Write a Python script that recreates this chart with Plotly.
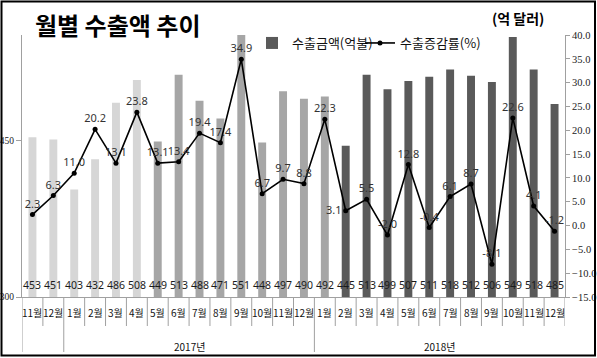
import plotly.graph_objects as go

# ---- data ----
years = ["", ""] + ["2017년"] * 12 + ["2018년"] * 12
months = ["11월", "12월"] + [f"{m}월" for m in range(1, 13)] + [f"{m}월" for m in range(1, 13)]
exports = [453, 451, 403, 432, 486, 508, 449, 513, 488, 471, 551, 448, 497, 490,
           492, 445, 513, 499, 507, 511, 518, 512, 506, 549, 518, 485]
growth = [2.3, 6.3, 11.0, 20.2, 13.1, 23.8, 13.1, 13.4, 19.4, 17.4, 34.9, 6.7, 9.7, 8.8,
          22.3, 3.1, 5.5, -2.0, 12.8, -0.4, 6.1, 8.7, -8.1, 22.6, 4.1, -1.2]
left_ticks = [300, 450]
Y_MIN, Y_MAX = 300, 551

# ---- layout geometry (pixels) ----
W, H = 597, 358
ML, MR, MT, MB = 22, 32, 35, 61
PW, PH = W - ML - MR, H - MT - MB

def px2x(px):
    return (px - ML) / PW

def px2y(py):
    return (H - MB - py) / PH

LIGHT, MID, DARK = "#d6d6d6", "#a6a6a6", "#5a5a5a"
groups = [(LIGHT, 0, 6), (MID, 6, 15), (DARK, 15, 26)]
idx = list(range(len(months)))

fig = go.Figure()
for color, a, b in groups:
    fig.add_trace(go.Bar(
        x=idx[a:b], y=exports[a:b],
        marker=dict(color=color, line=dict(width=0)),
        name="수출금액(억불)", showlegend=(color == DARK), legend="legend",
        hoverinfo="skip",
    ))

tpos = ["middle left" if v == 3.1 else "top center" for v in growth]
fig.add_trace(go.Scatter(
    x=idx, y=growth, yaxis="y2",
    mode="lines+markers+text",
    line=dict(color="#000000", width=1.6),
    marker=dict(color="#000000", size=5),
    text=[f"{v:.1f}" for v in growth], textposition=tpos,
    textfont=dict(family="Noto Sans, Liberation Sans", size=11, color="#333333"),
    name="수출증감률(%)", legend="legend2", cliponaxis=False,
))

AX = "#a0a0a0"
fig.update_layout(
    width=W, height=H,
    margin=dict(l=ML, r=MR, t=MT, b=MB, autoexpand=False),
    paper_bgcolor="white", plot_bgcolor="white",
    barmode="overlay", bargap=0.62,
    font=dict(family="Noto Sans CJK KR", color="#111111"),
    xaxis=dict(
        range=[-0.5, len(months) - 0.5], showline=True, linecolor=AX, linewidth=1,
        showticklabels=False, ticks="", showgrid=False, zeroline=False,
        automargin=False,
    ),
    yaxis=dict(
        range=[Y_MIN, Y_MAX], tickvals=left_ticks, showline=True, linecolor=AX,
        ticks="outside", ticklen=5, tickcolor=AX, showgrid=False, zeroline=False,
        tickfont=dict(family="Liberation Serif", size=9.5, color="#222222"),
        automargin=False,
    ),
    yaxis2=dict(
        range=[-15, 40], dtick=5, tickformat=".1f", overlaying="y", side="right",
        showline=True, linecolor=AX, ticks="outside", ticklen=4, tickcolor=AX,
        showgrid=False, zeroline=False, automargin=False,
        tickfont=dict(family="Liberation Serif", size=10.5, color="#222222"),
    ),
    legend=dict(x=px2x(252), y=px2y(43), xanchor="left", yanchor="middle",
                orientation="h", bgcolor="rgba(0,0,0,0)", itemwidth=30,
                font=dict(family="Noto Sans CJK KR", size=13, color="#111111")),
    legend2=dict(x=px2x(360), y=px2y(43), xanchor="left", yanchor="middle",
                 orientation="h", bgcolor="rgba(0,0,0,0)", itemwidth=30,
                 font=dict(family="Noto Sans CJK KR", size=13, color="#111111")),
    showlegend=True,
)

# bar value labels at the bar base
for i, v in zip(idx, exports):
    fig.add_annotation(x=i, y=Y_MIN, xref="x", yref="y", text=str(v),
                       yanchor="bottom", yshift=3, showarrow=False,
                       font=dict(family="Noto Sans, Liberation Sans", size=10.5,
                                 color="#1a1a1a"))

# month labels
for i, m in zip(idx, months):
    fig.add_annotation(x=i, y=px2y(312), xref="x", yref="paper", text=m,
                       yanchor="middle", showarrow=False,
                       font=dict(family="Noto Sans CJK KR", size=10, color="#111111"))

# separators and year labels
bounds = [-0.5]
for i in range(1, len(months)):
    if years[i] != years[i - 1]:
        bounds.append(i - 0.5)
bounds.append(len(months) - 0.5)
for i in range(1, len(months)):
    if (i - 0.5) not in bounds:
        fig.add_shape(type="line", xref="x", yref="paper", x0=i - 0.5, x1=i - 0.5,
                      y0=px2y(297), y1=px2y(326), line=dict(color=AX, width=1))
for k, bx in enumerate(bounds):
    long = k < len(bounds) - 1
    fig.add_shape(type="line", xref="x", yref="paper", x0=bx, x1=bx,
                  y0=px2y(297), y1=px2y(352 if long else 326),
                  line=dict(color=AX, width=1))
for a, b in zip(bounds[:-1], bounds[1:]):
    label = years[int(a + 0.5)]
    if label:
        fig.add_annotation(x=(a + b) / 2, y=px2y(346), xref="x", yref="paper",
                           text=label, yanchor="middle", showarrow=False,
                           font=dict(family="Noto Sans CJK KR", size=10, color="#111111"))

fig.add_annotation(text="<b>월별 수출액 추이</b>", xref="paper", yref="paper",
                   x=px2x(33), y=px2y(24), xanchor="left", yanchor="middle",
                   showarrow=False,
                   font=dict(family="Noto Sans CJK KR", size=24, color="#000000"))
fig.add_annotation(text="<b>(억 달러)</b>", xref="paper", yref="paper",
                   x=px2x(518), y=px2y(18), xanchor="center", yanchor="middle",
                   showarrow=False,
                   font=dict(family="Noto Sans CJK KR", size=14, color="#000000"))

fig.add_shape(type="rect", xref="paper", yref="paper",
              x0=px2x(1.5), x1=px2x(595), y0=px2y(355.5), y1=px2y(1.5),
              line=dict(color="#000000", width=2), fillcolor="rgba(0,0,0,0)", layer="above")

fig.write_html("out.html", config={"displayModeBar": False},
               post_script="document.body.style.margin='0';")
